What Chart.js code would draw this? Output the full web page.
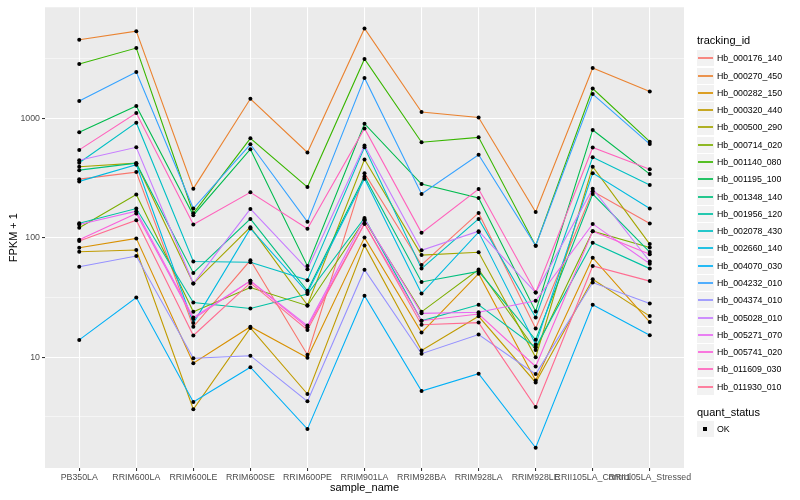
<!DOCTYPE html>
<html>
<head>
<meta charset="utf-8">
<script src="https://cdn.jsdelivr.net/npm/chart.js@4.4.0/dist/chart.umd.min.js"></script>
<style>
  html, body { margin: 0; padding: 0; background: #ffffff; }
  #wrap { position: relative; width: 800px; height: 500px; font-family: "Liberation Sans", Arial, Helvetica, sans-serif; }
  #c { position: absolute; left: 0; top: 0; }
  .lg-title { position: absolute; font-size: 11px; color: #000; line-height: 13px; white-space: nowrap; }
  .lg-key { position: absolute; width: 17px; height: 16px; background: #F2F2F2; }
  .lg-line { position: absolute; left: 1px; width: 15px; top: 7px; height: 2px; }
  .lg-dot { position: absolute; left: 6px; top: 6px; width: 4px; height: 4px; background: #000; }
  .lg-text { position: absolute; font-size: 8.8px; color: #000; line-height: 10px; white-space: nowrap; }
</style>
</head>
<body>
<div id="wrap">
  <canvas id="c" width="800" height="500"></canvas>
  <div id="legend"></div>
</div>
<script>
const categories = ['PB350LA','RRIM600LA','RRIM600LE','RRIM600SE','RRIM600PE','RRIM901LA','RRIM928BA','RRIM928LA','RRIM928LE','RRII105LA_Control','RRII105LA_Stressed'];

const hb_000176_140 = [310, 355, 18.0, 64.8, 10.5, 348, 59.2, 161.6, 17.4, 245, 131.8];
const hb_000270_450 = [4552, 5381, 258, 1460, 518, 5667, 1131, 1019, 164.7, 2646, 1679];
const hb_000282_150 = [82.5, 98.9, 8.91, 18.0, 9.89, 100.4, 16.1, 50.1, 6.39, 68.1, 19.7];
const hb_000320_440 = [76.4, 79.0, 3.67, 17.6, 4.92, 86.4, 11.4, 22.0, 6.15, 45.0, 22.1];
const hb_000500_290 = [393.6, 421.7, 41.4, 122.8, 27.3, 452.7, 71.7, 75.6, 10.0, 393.6, 88.6];
const hb_000714_020 = [121.2, 230, 24.0, 38.3, 27.0, 140.4, 24.0, 54.3, 11.5, 113.7, 82.9];
const hb_001140_080 = [2856, 3883, 160.6, 681, 266, 3145, 631, 694, 85.8, 1778, 639];
const hb_001195_100 = [764, 1269, 154.6, 551.6, 58.1, 903, 281.8, 215.4, 24.2, 800.5, 341.5];
const hb_001348_140 = [368.6, 421.7, 50.8, 144, 35.96, 326.8, 42.7, 52.3, 14.0, 232.6, 76.0];
const hb_001956_120 = [132.6, 175.8, 28.7, 25.6, 33.8, 146.8, 20.2, 27.5, 12.1, 90.9, 55.2];
const hb_002078_430 = [425, 921, 63.3, 62.4, 44.2, 573, 55.2, 144, 21.5, 473, 276.5];
const hb_002660_140 = [296.8, 409, 19.3, 119.8, 34.8, 312.6, 34.1, 111.6, 12.8, 348, 175.8];
const hb_004070_030 = [13.96, 31.6, 4.22, 8.25, 2.50, 32.7, 5.21, 7.27, 1.745, 27.5, 15.3];
const hb_004232_010 = [1396, 2450, 175.8, 607, 136, 2184, 232.6, 495.5, 85.8, 1597, 609.5];
const hb_004374_010 = [57.3, 70.4, 9.81, 10.3, 4.27, 54.1, 10.7, 15.5, 7.22, 42.2, 28.2];
const hb_005028_010 = [446.7, 573, 41.4, 174.4, 54.5, 592, 78.5, 113.7, 34.8, 258, 63.3];
const hb_005271_070 = [129.3, 166.9, 21.5, 43.6, 18.4, 143.2, 23.3, 23.8, 29.7, 130.8, 60.7];
const hb_005741_020 = [96.2, 159.7, 20.9, 43.6, 17.8, 131.3, 20.2, 23.0, 8.37, 113.7, 72.7];
const hb_011609_030 = [545, 1109, 129.3, 240.4, 118.9, 825, 110.1, 256, 34.8, 570, 375.8];
const hb_011930_010 = [93.9, 140.4, 15.2, 41.9, 16.9, 131.3, 18.7, 19.5, 3.83, 58.1, 43.4];

const seriesNames = ['Hb_000176_140','Hb_000270_450','Hb_000282_150','Hb_000320_440','Hb_000500_290','Hb_000714_020','Hb_001140_080','Hb_001195_100','Hb_001348_140','Hb_001956_120','Hb_002078_430','Hb_002660_140','Hb_004070_030','Hb_004232_010','Hb_004374_010','Hb_005028_010','Hb_005271_070','Hb_005741_020','Hb_011609_030','Hb_011930_010'];
const seriesValues = [hb_000176_140, hb_000270_450, hb_000282_150, hb_000320_440, hb_000500_290, hb_000714_020, hb_001140_080, hb_001195_100, hb_001348_140, hb_001956_120, hb_002078_430, hb_002660_140, hb_004070_030, hb_004232_010, hb_004374_010, hb_005028_010, hb_005271_070, hb_005741_020, hb_011609_030, hb_011930_010];
const seriesColors = ['#F8766D','#EA8331','#D89000','#C09B00','#A3A500','#7CAE00','#39B600','#00BB4E','#00BF7D','#00C1A3','#00BFC4','#00BAE0','#00B0F6','#35A2FF','#9590FF','#C77CFF','#E76BF3','#FA62DB','#FF62BC','#FF6C91'];

const yTickValues = [3.1623, 10, 31.623, 100, 316.23, 1000, 3162.3];
const yMajorLabels = {10: '10', 100: '100', 1000: '1000'};
const quantStatus = ['OK'];

const FONT = '"Liberation Sans", Arial, Helvetica, sans-serif';

const datasets = [];
seriesValues.forEach((vals, i) => {
  datasets.push({
    label: seriesNames[i],
    data: vals.map((v, k) => ({x: k, y: v})),
    borderColor: seriesColors[i],
    backgroundColor: seriesColors[i],
    borderWidth: 1.1,
    pointRadius: 0,
    showLine: true,
    fill: false,
    tension: 0,
    order: 100 - i
  });
});
seriesValues.forEach((vals, i) => {
  datasets.push({
    label: seriesNames[i] + ' points',
    data: vals.map((v, k) => ({x: k, y: v})),
    showLine: false,
    pointRadius: 2,
    pointHoverRadius: 2,
    pointBackgroundColor: '#000000',
    pointBorderWidth: 0,
    order: 0
  });
});

const panelBg = {
  id: 'panelBg',
  beforeDraw(chart) {
    const {ctx, chartArea} = chart;
    ctx.save();
    ctx.fillStyle = '#ffffff';
    ctx.fillRect(0, 0, chart.width, chart.height);
    ctx.fillStyle = '#EBEBEB';
    ctx.fillRect(chartArea.left, chartArea.top, chartArea.right - chartArea.left, chartArea.bottom - chartArea.top);
    ctx.restore();
  }
};

new Chart(document.getElementById('c'), {
  type: 'scatter',
  data: { datasets },
  plugins: [panelBg],
  options: {
    responsive: false,
    animation: false,
    devicePixelRatio: 1,
    layout: { padding: { left: 0, right: 116, top: 5, bottom: 0 } },
    plugins: { legend: { display: false }, tooltip: { enabled: false } },
    scales: {
      x: {
        type: 'linear',
        min: -0.6,
        max: 10.6,
        afterBuildTicks: (scale) => { scale.ticks = categories.map((c, i) => ({value: i})); },
        afterFit: (scale) => { scale.height = 32; },
        ticks: {
          autoSkip: false,
          maxRotation: 0,
          minRotation: 0,
          padding: 1,
          color: '#4D4D4D',
          font: { family: FONT, size: 8.8 },
          callback: (v) => categories[v] !== undefined ? categories[v] : ''
        },
        grid: {
          color: '#ffffff',
          lineWidth: 1.07,
          drawTicks: true,
          tickLength: 3,
          tickColor: '#333333',
          tickWidth: 1.07
        },
        border: { display: false },
        title: {
          display: true,
          text: 'sample_name',
          color: '#000000',
          font: { family: FONT, size: 11 },
          padding: { top: 0, bottom: 5.4 }
        }
      },
      y: {
        type: 'logarithmic',
        min: 1.181,
        max: 8523,
        afterBuildTicks: (scale) => { scale.ticks = yTickValues.map(v => ({value: v})); },
        afterFit: (scale) => { scale.width = 45; },
        ticks: {
          autoSkip: false,
          padding: 2,
          color: '#4D4D4D',
          font: { family: FONT, size: 8.8 },
          callback: (v, idx) => (idx % 2 === 1) ? yMajorLabels[Math.round(v)] : ''
        },
        grid: {
          color: '#ffffff',
          lineWidth: (ctx) => (ctx.index % 2 === 1) ? 1.07 : 0.53,
          drawTicks: true,
          tickLength: 3,
          tickColor: (ctx) => (ctx.index % 2 === 1) ? '#333333' : 'rgba(0,0,0,0)',
          tickWidth: 1.07
        },
        border: { display: false },
        title: {
          display: true,
          text: 'FPKM + 1',
          color: '#000000',
          font: { family: FONT, size: 11 },
          padding: { top: 7, bottom: 0 }
        }
      }
    }
  }
});

// Legend (HTML, built from the same arrays)
const lg = document.getElementById('legend');
function add(cls, style, text) {
  const d = document.createElement('div');
  d.className = cls;
  Object.assign(d.style, style);
  if (text !== undefined) d.textContent = text;
  lg.appendChild(d);
  return d;
}
add('lg-title', {left: '697px', top: '34px'}, 'tracking_id');
const rowStart = 58.3, rowStep = 17.28;
seriesNames.forEach((name, i) => {
  const cy = rowStart + i * rowStep;
  const key = add('lg-key', {left: '697px', top: Math.round(cy - 8) + 'px'});
  const ln = document.createElement('div');
  ln.className = 'lg-line';
  ln.style.background = seriesColors[i];
  ln.style.opacity = '0.85';
  key.appendChild(ln);
  add('lg-text', {left: '717px', top: Math.round(cy - 5) + 'px'}, name);
});
add('lg-title', {left: '697px', top: '406px'}, 'quant_status');
quantStatus.forEach((s, i) => {
  const cy = 429.3 + i * rowStep;
  const key = add('lg-key', {left: '697px', top: Math.round(cy - 8) + 'px'});
  const dot = document.createElement('div');
  dot.className = 'lg-dot';
  key.appendChild(dot);
  add('lg-text', {left: '717px', top: Math.round(cy - 5) + 'px'}, s);
});
</script>
</body>
</html>
